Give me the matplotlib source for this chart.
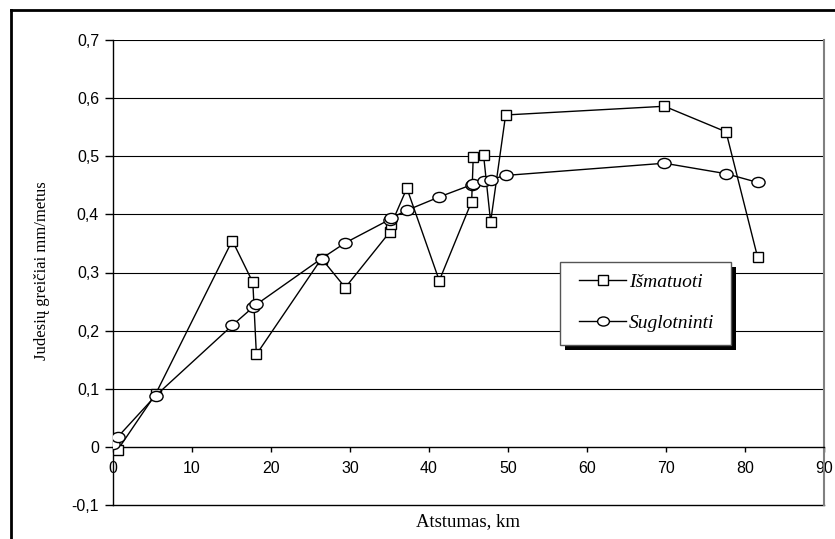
import numpy as np
import matplotlib
matplotlib.use('Agg')
import matplotlib.pyplot as plt
from matplotlib.path import Path
from matplotlib.patches import Rectangle
from matplotlib.lines import Line2D
from matplotlib.transforms import Affine2D

# measured (squares) and smoothed (circles) velocities vs distance
distance_km = [0, 0.6, 5.4, 15.1, 17.7, 18.15, 26.4, 29.4, 35.0, 35.25,
               37.2, 41.3, 45.4, 45.6, 46.9, 47.8, 49.7, 69.8, 77.6, 81.6]
measured = [0.0, -0.005, 0.091, 0.355, 0.283, 0.159, 0.324, 0.274, 0.369, 0.384,
            0.445, 0.286, 0.422, 0.499, 0.503, 0.387, 0.571, 0.586, 0.542, 0.326]
smoothed = [0.005, 0.017, 0.088, 0.209, 0.240, 0.245, 0.324, 0.351, 0.391, 0.394,
            0.407, 0.430, 0.451, 0.453, 0.457, 0.460, 0.467, 0.488, 0.470, 0.455]

series_labels = ['Išmatuoti', 'Suglotninti']
x_ticks = list(range(0, 100, 10))
y_ticks = [-0.1, 0, 0.1, 0.2, 0.3, 0.4, 0.5, 0.6, 0.7]

W, H = 835, 539
fig = plt.figure(figsize=(W / 100, H / 100), dpi=100)

# plot area in pixels: x 113..824, y 40..505
ax = fig.add_axes([113 / W, 1 - 505 / H, (824 - 113) / W, (505 - 40) / H])

ellipse = Path.unit_circle().transformed(Affine2D().scale(1.3, 1.0))

ax.plot(distance_km, measured, color='black', lw=1.0, marker='s', ms=7.5,
        mfc='white', mec='black', mew=1.0, zorder=3)
ax.plot(distance_km, smoothed, color='black', lw=1.0, marker=ellipse, ms=9.5,
        mfc='white', mec='black', mew=1.0, zorder=3)

ax.set_xlim(0, 90)
ax.set_ylim(-0.1, 0.7)
ax.set_xticks(x_ticks)
ax.set_yticks(y_ticks)
ax.set_yticklabels([('%g' % v).replace('.', ',') for v in y_ticks])

for v in y_ticks[2:]:
    ax.axhline(v, color='black', lw=0.8, zorder=1)
ax.axhline(-0.1, color='black', lw=1.0, zorder=2, clip_on=False)

ax.spines['bottom'].set_position(('data', 0))
ax.spines['bottom'].set_linewidth(1.0)
ax.spines['left'].set_linewidth(1.0)
ax.spines['top'].set_visible(False)
ax.spines['right'].set_color('#808080')
ax.spines['right'].set_linewidth(1.5)

ax.tick_params(axis='x', direction='out', length=3.5, width=1.0, pad=7, labelsize=11.5)
ax.tick_params(axis='y', direction='out', length=6, width=1.0, pad=4, labelsize=11.5)
for lab in ax.get_xticklabels() + ax.get_yticklabels():
    lab.set_fontfamily('Liberation Sans')

ax.set_xlabel('Atstumas, km', fontfamily='Liberation Serif', fontsize=13.5)
ax.set_ylabel('Judesių greičiai mm/metus', fontfamily='Liberation Serif', fontsize=12)
ax.xaxis.set_label_coords(0.5, -0.018)
ax.yaxis.set_label_coords(-0.089, 0.505)

# legend box with hard shadow
def px_box(x0, y0, x1, y1):
    return (x0 / W, 1 - y1 / H), (x1 - x0) / W, (y1 - y0) / H

xy, w, h = px_box(565, 267, 736, 350)
ax.add_patch(Rectangle(xy, w, h, transform=fig.transFigure, facecolor='black',
                       edgecolor='none', zorder=4, clip_on=False))
xy, w, h = px_box(560, 262, 731, 345)
ax.add_patch(Rectangle(xy, w, h, transform=fig.transFigure, facecolor='white',
                       edgecolor='#555555', lw=1.0, zorder=4.5, clip_on=False))

handles = [
    Line2D([], [], color='black', lw=1.0, marker='s', ms=6.5, mfc='white', mec='black'),
    Line2D([], [], color='black', lw=1.0, marker=ellipse, ms=8.5, mfc='white', mec='black'),
]
leg = ax.legend(handles, series_labels, loc='upper left',
                bbox_to_anchor=(579 / W, 1 - 273.5 / H), bbox_transform=fig.transFigure,
                frameon=False, borderpad=0, borderaxespad=0, handlelength=2.42,
                handletextpad=0.15, labelspacing=1.2,
                prop={'family': 'Liberation Serif', 'style': 'italic', 'size': 14})
leg.set_zorder(5)

# outer frame (left and top edges)
fig.add_artist(Line2D([10.5 / W, 10.5 / W], [0, 1 - 10 / H], color='black', lw=2.0))
fig.add_artist(Line2D([10.5 / W, 1], [1 - 10 / H, 1 - 10 / H], color='black', lw=2.0))

fig.savefig('out.png', dpi=100)
